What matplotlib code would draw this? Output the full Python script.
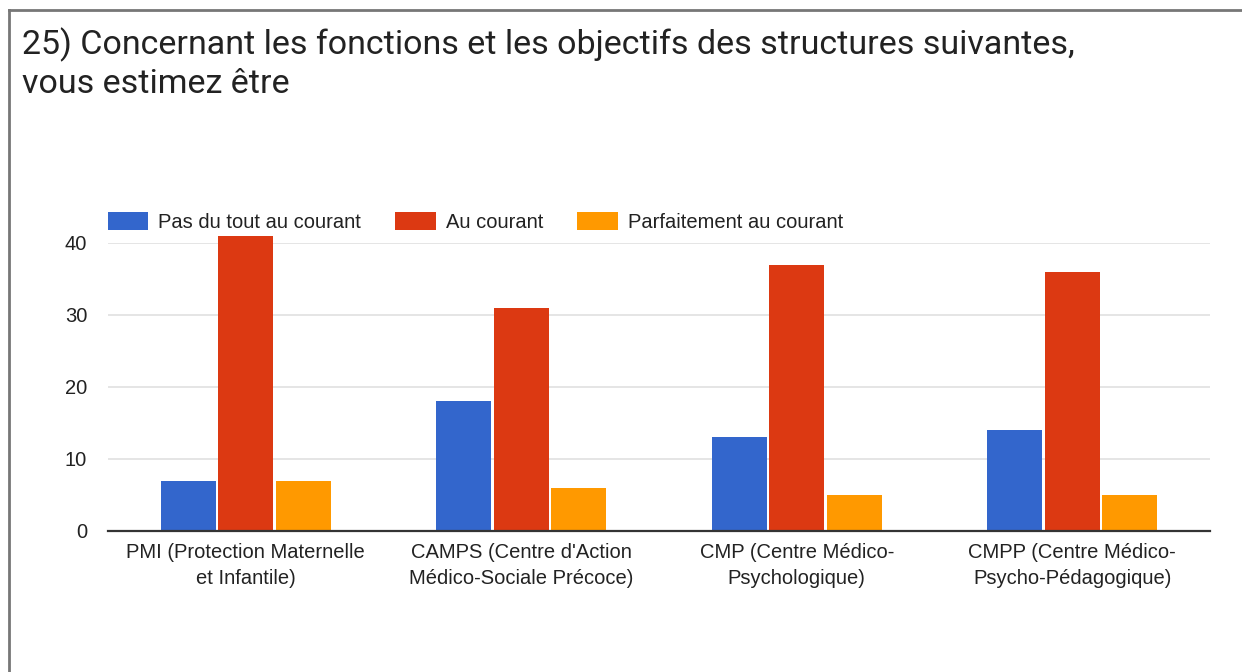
import matplotlib
matplotlib.use("Agg")
import matplotlib.pyplot as plt
import numpy as np
from matplotlib.lines import Line2D

plt.rcParams['font.family'] = ['Liberation Sans', 'DejaVu Sans']

# données
structures = ["PMI (Protection Maternelle\net Infantile)",
              "CAMPS (Centre d'Action\nMédico-Sociale Précoce)",
              "CMP (Centre Médico-\nPsychologique)",
              "CMPP (Centre Médico-\nPsycho-Pédagogique)"]
series_noms = ["Pas du tout au courant", "Au courant", "Parfaitement au courant"]
pas_du_tout = [7, 18, 13, 14]
au_courant = [41, 31, 37, 36]
parfaitement = [7, 6, 5, 5]
couleurs = ['#3366cc', '#dc3912', '#ff9900']
titre = ["25) Concernant les fonctions et les objectifs des structures suivantes,",
         "vous estimez être"]

W, H = 1242, 672
fig = plt.figure(figsize=(W / 100, H / 100), dpi=100)
ax = fig.add_axes([108 / W, 1 - 531 / H, (1210 - 108) / W, (531 - 243) / H])

x = np.arange(len(structures))
decalage = 0.208
for i, (vals, nom) in enumerate(zip([pas_du_tout, au_courant, parfaitement], series_noms)):
    ax.bar(x + (i - 1) * decalage, vals, width=0.2, color=couleurs[i],
           label=nom, clip_on=False, zorder=3)

ax.set_xlim(-0.5, 3.5)
ax.set_ylim(0, 40)
ax.set_yticks([0, 10, 20, 30, 40])
ax.set_xticks(x)
ax.set_xticklabels(structures, linespacing=1.45)
for s in ax.spines.values():
    s.set_visible(False)
ax.grid(axis='y', color='#e0e0e0', lw=1.2, zorder=0)
ax.axhline(0, color='#333333', lw=1.6, zorder=4, clip_on=False)
ax.tick_params(axis='both', length=0, labelsize=14.5, labelcolor='#222222')
ax.tick_params(axis='y', pad=15)
ax.tick_params(axis='x', pad=9)

leg = fig.legend(loc='center left', bbox_to_anchor=(108 / W, 1 - 222 / H),
                 ncol=3, frameon=False, fontsize=14.5, handlelength=2.0,
                 handleheight=0.95, handletextpad=0.5, columnspacing=1.7,
                 borderpad=0, borderaxespad=0)
for t in leg.get_texts():
    t.set_color('#222222')

# titre sur deux lignes
for ligne, base in zip(titre, [54, 93]):
    fig.text(22 / W, 1 - base / H, ligne, fontsize=24.5, family='Roboto',
             va='baseline', ha='left', color='#222222')

# bordure grise (haut et gauche)
fig.add_artist(Line2D([8.5 / W, 8.5 / W], [0, 1 - 10 / H], transform=fig.transFigure,
                      color='#777777', lw=2))
fig.add_artist(Line2D([8.5 / W, 1], [1 - 10 / H, 1 - 10 / H], transform=fig.transFigure,
                      color='#777777', lw=2))

fig.savefig("out.png", dpi=100)
